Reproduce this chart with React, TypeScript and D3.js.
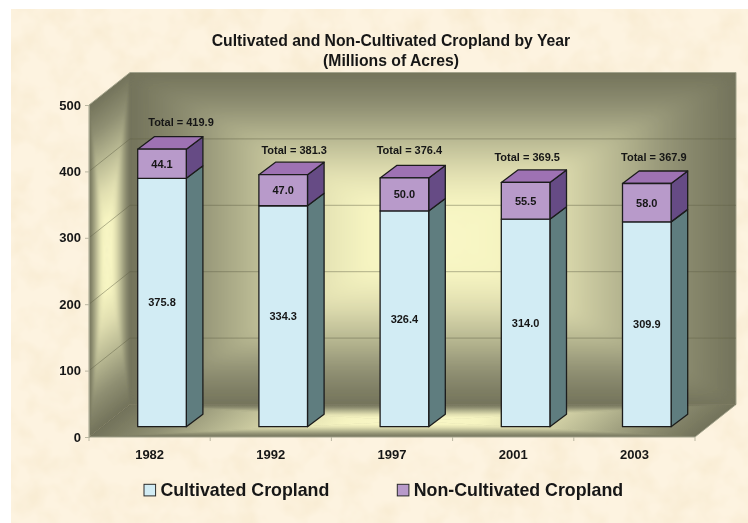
import React, {useRef, useEffect} from 'react'
import * as d3 from 'd3'

const years = ['1982', '1992', '1997', '2001', '2003']
const cultivated = [375.8, 334.3, 326.4, 314.0, 309.9]
const nonCultivated = [44.1, 47.0, 50.0, 55.5, 58.0]
const yTicks = [0, 100, 200, 300, 400, 500]
const seriesNames = ['Cultivated Cropland', 'Non-Cultivated Cropland']

// hand placed total labels in the original, relative to the bar's front top centre
const totalShiftX = [19, 11, 5, 1.6, 7]
const totalShiftY = [27.3, 24.7, 28, 25.6, 26.6]

const WIDTH = 748
const HEIGHT = 523
const FONT = '"Liberation Sans", Arial, sans-serif'
const INK = '#161616'

const wallStops: [number, string][] = [
  [0, '#72725a'],
  [0.2, '#8f8f72'],
  [0.4, '#b8b892'],
  [0.6, '#e0deb0'],
  [0.78, '#f6f4c1'],
  [1, '#faf8c8']
]

type Pt = [number, number]

export default function App() {
  const container = useRef<SVGSVGElement>(null)

  useEffect(() => {
    const svg = d3.select(container.current)
    svg.selectAll('*').remove()

    const defs = svg.append('defs')

    // parchment background
    const paper = defs.append('filter').attr('id', 'paper')
      .attr('x', 0).attr('y', 0).attr('width', 1).attr('height', 1)
    paper.append('feTurbulence')
      .attr('type', 'fractalNoise')
      .attr('baseFrequency', 0.035)
      .attr('numOctaves', 3)
      .attr('seed', 7)
    paper.append('feColorMatrix')
      .attr('type', 'matrix')
      .attr('values', '0 0 0 0 0.93  0 0 0 0 0.82  0 0 0 0 0.62  1.6 0 0 0 -0.62')

    // the reference is a slightly soft scan
    defs.append('filter').attr('id', 'soft')
      .attr('filterUnits', 'userSpaceOnUse')
      .attr('x', 0).attr('y', 0).attr('width', WIDTH).attr('height', HEIGHT)
      .append('feGaussianBlur').attr('stdDeviation', 0.35)

    svg.append('rect')
      .attr('x', 11).attr('y', 9)
      .attr('width', WIDTH - 11).attr('height', HEIGHT - 9)
      .attr('fill', '#fdf3e0')
    svg.append('rect')
      .attr('x', 11).attr('y', 9)
      .attr('width', WIDTH - 11).attr('height', HEIGHT - 9)
      .attr('filter', 'url(#paper)')

    const chart = svg.append('g').attr('filter', 'url(#soft)')

    const x = d3.scaleBand().domain(years).range([89, 695])
    const y = d3.scaleLinear().domain([0, 500]).range([437, 105])
    // the bars sit a little inside the box, so they get their own scale
    const barY = d3.scaleLinear().domain([0, 500]).range([426.7, 96.2])

    const depthX = 41
    const depthY = 32.5
    const barDepthX = 16.6
    const barDepthY = 12.5
    const barOffset = 48.7
    const barWidth = 48.6

    const x0 = x.range()[0]
    const x1 = x.range()[1]
    const y0 = y(0)
    const yTop = y(500)
    const line = d3.line()

    // each wall is a rectangular "from centre" gradient: one triangle per edge,
    // blurred so the diagonals do not show, clipped back to the face
    let gradId = 0
    const walls = chart.append('g')
    function shadeFace(corners: Pt[], centre: Pt, blur: number) {
      const faceId = 'face' + gradId++
      const outline = line(corners) + 'Z'
      defs.append('clipPath').attr('id', faceId).append('path').attr('d', outline)
      defs.append('filter').attr('id', faceId + 'b')
        .attr('filterUnits', 'userSpaceOnUse')
        .attr('x', 0).attr('y', 0).attr('width', WIDTH).attr('height', HEIGHT)
        .append('feGaussianBlur').attr('stdDeviation', blur)
      const face = walls.append('g').attr('clip-path', `url(#${faceId})`)
      face.append('path').attr('d', outline).attr('fill', wallStops[0][1])
      const tris = face.append('g').attr('filter', `url(#${faceId}b)`)
      corners.forEach((a, i) => {
        const b = corners[(i + 1) % corners.length]
        const ex = b[0] - a[0]
        const ey = b[1] - a[1]
        const k = ((centre[0] - a[0]) * ex + (centre[1] - a[1]) * ey) / (ex * ex + ey * ey)
        const foot = [a[0] + k * ex, a[1] + k * ey]
        const id = 'wall' + gradId++
        const grad = defs.append('linearGradient')
          .attr('id', id)
          .attr('gradientUnits', 'userSpaceOnUse')
          .attr('x1', foot[0]).attr('y1', foot[1])
          .attr('x2', centre[0]).attr('y2', centre[1])
        wallStops.forEach(s => {
          grad.append('stop').attr('offset', s[0]).attr('stop-color', s[1])
        })
        tris.append('path')
          .attr('d', line([a, b, centre]) + 'Z')
          .attr('fill', `url(#${id})`)
          .attr('stroke', `url(#${id})`)
          .attr('stroke-width', 0.6)
      })
    }

    // back wall
    shadeFace(
      [[x0 + depthX, yTop - depthY], [x1 + depthX, yTop - depthY], [x1 + depthX, y0 - depthY], [x0 + depthX, y0 - depthY]],
      [433, 239],
      7
    )
    // left wall
    shadeFace(
      [[x0, yTop], [x0 + depthX, yTop - depthY], [x0 + depthX, y0 - depthY], [x0, y0]],
      [107, 255],
      1
    )
    // floor
    shadeFace(
      [[x0 + depthX, y0 - depthY], [x1 + depthX, y0 - depthY], [x1, y0], [x0, y0]],
      [413, 421],
      0.6
    )

    // box outline, a thin light edge
    chart.append('path')
      .attr('d', line([[x0, yTop], [x0 + depthX, yTop - depthY], [x1 + depthX, yTop - depthY], [x1 + depthX, y0 - depthY], [x1, y0], [x0, y0]]) + 'Z')
      .attr('fill', 'none')
      .attr('stroke', '#a3a38c')
      .attr('stroke-width', 1)

    // gridlines, along the left wall then across the back
    const grid = chart.append('g')
      .attr('fill', 'none')
      .attr('stroke', '#5f5f45')
      .attr('stroke-opacity', 0.45)
      .attr('stroke-width', 1)
    yTicks.filter(t => t < 500).forEach(t => {
      grid.append('path')
        .attr('d', line([[x0, y(t)], [x0 + depthX, y(t) - depthY], [x1 + depthX, y(t) - depthY]]))
    })

    // axes
    const yAxis = chart.append('g')
      .attr('transform', `translate(${x0},0)`)
      .call(d3.axisLeft(y).tickValues(yTicks).tickSize(4).tickPadding(4).tickFormat(d3.format('d')))
    const xAxis = chart.append('g')
      .attr('transform', `translate(0,${y0})`)
      .call(d3.axisBottom(x).tickSize(0).tickPadding(13))
    chart.append('g')
      .attr('stroke', '#b9b6a0')
      .selectAll('line')
      .data(years.map(d => x(d)).concat([x1]))
      .enter()
      .append('line')
      .attr('x1', d => d).attr('x2', d => d)
      .attr('y1', y0).attr('y2', y0 + 4)
    yAxis.selectAll('.domain').attr('stroke', '#a3a38c')
    xAxis.selectAll('.domain').remove()
    yAxis.selectAll('line').attr('stroke', '#b9b6a0')
    ;[yAxis, xAxis].forEach(axis => {
      axis.selectAll('text')
        .attr('fill', INK)
        .style('font-family', FONT)
        .style('font-size', '13px')
        .style('font-weight', 'bold')
    })

    // stacked bars
    const rows = years.map((year, i) => ({
      year,
      cultivated: cultivated[i],
      nonCultivated: nonCultivated[i]
    }))
    const stacked = d3.stack().keys(['cultivated', 'nonCultivated'])(rows as any)
    const faceColors = [
      {front: '#d2ecf4', side: '#5f7d7f', top: '#5f7d7f'},
      {front: '#b89aca', side: '#664c85', top: '#9e72b3'}
    ]

    const bars = chart.append('g')
      .attr('stroke', '#1c1c1c')
      .attr('stroke-width', 1.3)
      .attr('stroke-linejoin', 'round')
    stacked.forEach((layer, s) => {
      layer.forEach((d, i) => {
        const left = x(years[i]) + barOffset
        const right = left + barWidth
        const low = barY(d[0])
        const high = barY(d[1])
        bars.append('path')
          .attr('d', line([[right, low], [right + barDepthX, low - barDepthY], [right + barDepthX, high - barDepthY], [right, high]]) + 'Z')
          .attr('fill', faceColors[s].side)
        if (s === stacked.length - 1) {
          bars.append('path')
            .attr('d', line([[left, high], [left + barDepthX, high - barDepthY], [right + barDepthX, high - barDepthY], [right, high]]) + 'Z')
            .attr('fill', faceColors[s].top)
        }
        bars.append('path')
          .attr('d', line([[left, low], [right, low], [right, high], [left, high]]) + 'Z')
          .attr('fill', faceColors[s].front)
      })
    })

    // value labels
    const labels = chart.append('g')
      .attr('text-anchor', 'middle')
      .attr('fill', INK)
      .style('font-family', FONT)
      .style('font-weight', 'bold')
    stacked.forEach(layer => {
      layer.forEach((d, i) => {
        labels.append('text')
          .attr('x', x(years[i]) + barOffset + barWidth / 2)
          .attr('y', (barY(d[0]) + barY(d[1])) / 2)
          .attr('dy', '.36em')
          .style('font-size', '11px')
          .text((d[1] - d[0]).toFixed(1))
      })
    })
    stacked[stacked.length - 1].forEach((d, i) => {
      labels.append('text')
        .attr('x', x(years[i]) + barOffset + barWidth / 2 + totalShiftX[i])
        .attr('y', barY(d[1]) - totalShiftY[i])
        .attr('dy', '.36em')
        .style('font-size', '11px')
        .text(`Total = ${d[1].toFixed(1)}`)
    })

    // title
    const title = chart.append('text')
      .attr('text-anchor', 'middle')
      .attr('fill', INK)
      .style('font-family', FONT)
      .style('font-size', '15.75px')
      .style('font-weight', 'bold')
    title.append('tspan').attr('x', 391).attr('y', 46).text('Cultivated and Non-Cultivated Cropland by Year')
    title.append('tspan').attr('x', 391).attr('y', 66).text('(Millions of Acres)')

    // legend
    const legendX = [144, 397.3]
    seriesNames.forEach((name, i) => {
      chart.append('rect')
        .attr('x', legendX[i]).attr('y', 484.3)
        .attr('width', 11.6).attr('height', 11.6)
        .attr('fill', faceColors[i].front)
        .attr('stroke', '#2a2a2a')
        .attr('stroke-width', 1)
      chart.append('text')
        .attr('x', legendX[i] + 16.4)
        .attr('y', 495.7)
        .attr('fill', INK)
        .style('font-family', FONT)
        .style('font-size', '17.8px')
        .style('font-weight', 'bold')
        .text(name)
    })
  }, [])

  return (
    <svg
      ref={container}
      width={WIDTH}
      height={HEIGHT}
      style={{position: 'absolute', left: 0, top: 0, background: '#fff'}}
    />
  )
}
